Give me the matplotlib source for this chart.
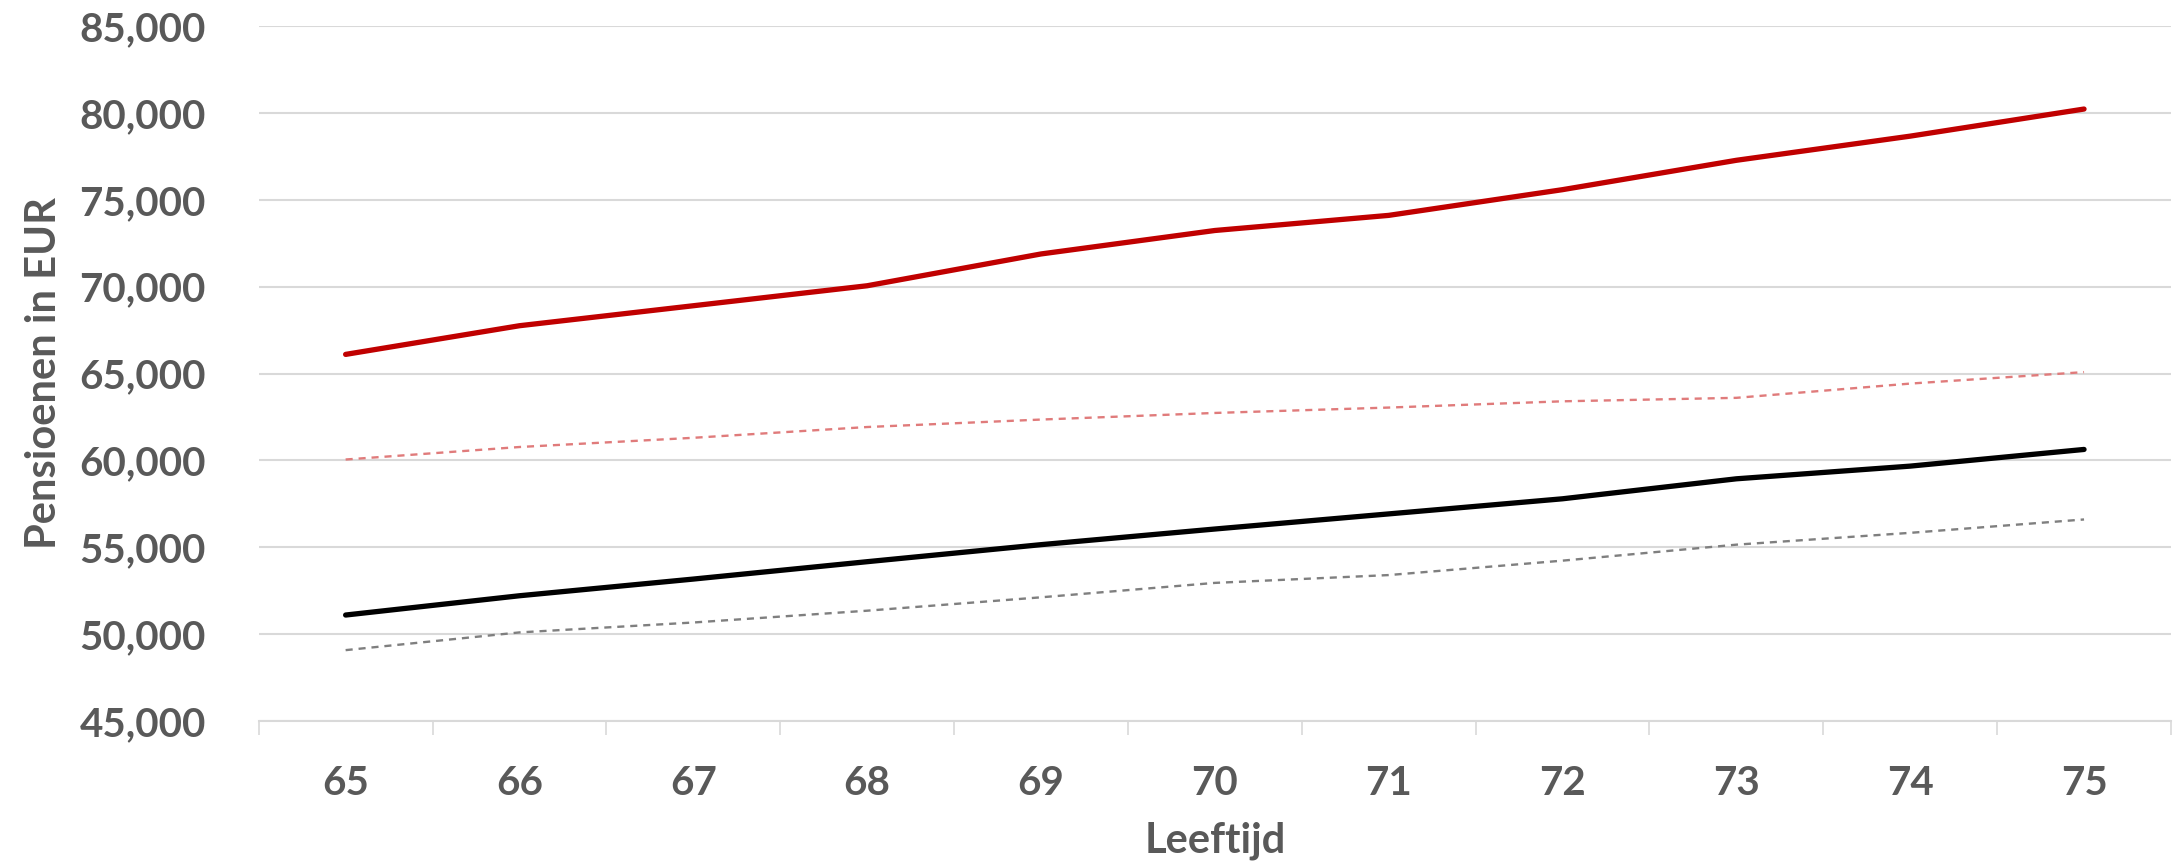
import numpy as np
import matplotlib.pyplot as plt
from matplotlib.ticker import FuncFormatter, MultipleLocator

# Leeftijd (age) categories
ages = ["65", "66", "67", "68", "69", "70", "71", "72", "73", "74", "75"]

# pension values in EUR
red_solid = [66100, 67750, 68900, 70050, 71880, 73230, 74100, 75580, 77270, 78660, 80220]
red_dashed = [60050, 60770, 61300, 61920, 62350, 62730, 63040, 63400, 63600, 64420, 65080]
black_solid = [51100, 52210, 53170, 54170, 55150, 56050, 56920, 57790, 58940, 59670, 60630]
grey_dashed = [49080, 50100, 50670, 51350, 52120, 52950, 53400, 54230, 55150, 55830, 56600]

TXT = "#595959"
GRID = "#D9D9D9"

plt.rcParams["font.family"] = ["Lato", "DejaVu Sans"]

fig = plt.figure(figsize=(21.74, 8.66), dpi=100)
ax = fig.add_axes([0.119, 0.1674, 0.8796, 0.8026])

x = np.arange(len(ages))
ax.plot(x, red_solid, color="#C00000", lw=3.8, solid_capstyle="round", zorder=4)
ax.plot(x, red_dashed, color="#E07B7B", lw=1.7, ls=(0, (3, 2.5)), zorder=3)
ax.plot(x, black_solid, color="black", lw=3.8, solid_capstyle="round", zorder=4)
ax.plot(x, grey_dashed, color="#7F7F7F", lw=1.7, ls=(0, (3, 2.5)), zorder=3)

ax.set_xlim(-0.5, len(ages) - 0.5)
ax.set_ylim(45000, 85000)
ax.yaxis.set_major_locator(MultipleLocator(5000))
ax.yaxis.set_major_formatter(FuncFormatter(lambda v, p: f"{int(v):,}"))
ax.grid(axis="y", color=GRID, lw=1.5, zorder=0)
ax.set_axisbelow(True)

ax.set_xticks(x)
ax.set_xticklabels(ages)
ax.set_xticks(np.arange(-0.5, len(ages)), minor=True)
ax.tick_params(axis="x", which="major", length=0, pad=32, labelsize=29,
               labelcolor=TXT)
ax.tick_params(axis="x", which="minor", length=10, width=1.2, color=GRID)
ax.tick_params(axis="y", length=0, pad=38, labelsize=29, labelcolor=TXT)
for lab in ax.get_xticklabels() + ax.get_yticklabels():
    lab.set_fontweight("bold")

for s in ["left", "right", "top"]:
    ax.spines[s].set_visible(False)
ax.spines["bottom"].set_color(GRID)
ax.spines["bottom"].set_linewidth(1.5)

ax.set_xlabel("Leeftijd", fontsize=30, fontweight="bold", color=TXT, labelpad=14)
ax.set_ylabel("Pensioenen in EUR", fontsize=30, fontweight="bold", color=TXT,
              labelpad=12)

fig.savefig("out.png", dpi=100)
